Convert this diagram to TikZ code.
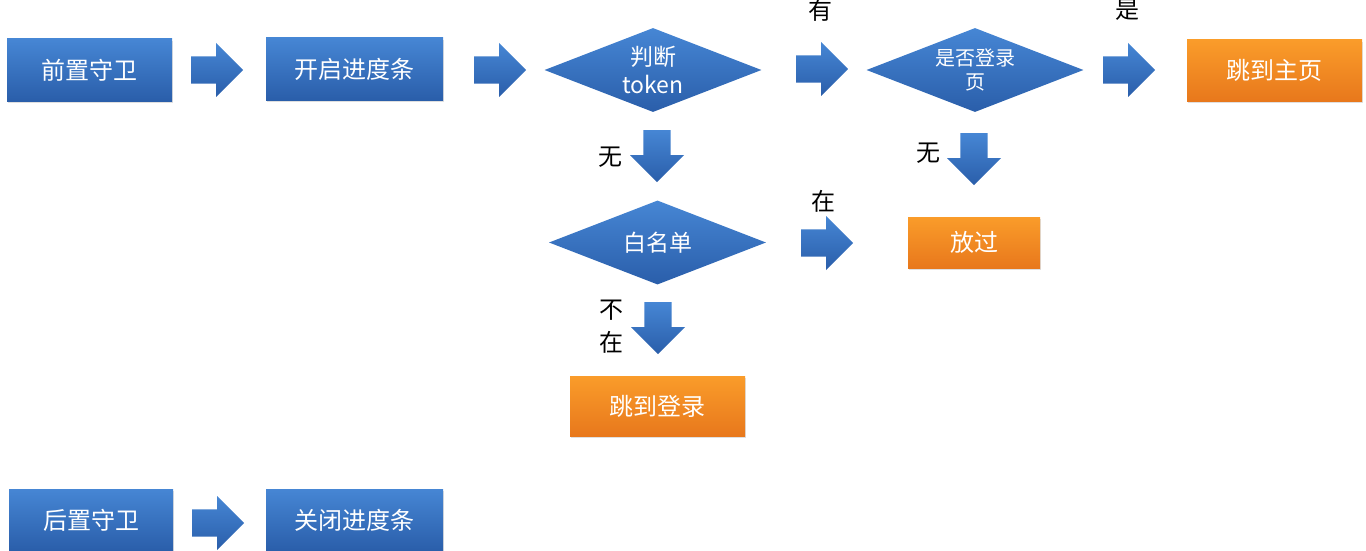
\documentclass[tikz,border=0pt]{standalone}
\usepackage{fontspec}
\setmainfont{Noto Sans CJK SC}
\usetikzlibrary{positioning,shapes,shadows}

\definecolor{blueTop}{RGB}{70,134,212}
\definecolor{blueBot}{RGB}{42,94,170}
\definecolor{orangeTop}{RGB}{250,156,42}
\definecolor{orangeBot}{RGB}{232,120,28}

\begin{document}
\begin{tikzpicture}[%
	x=1pt,y=-1pt,
	every text node part/.style={align=center},
	proc/.style={%
		rectangle,
		top color=blueTop,
		bottom color=blueBot,
		text=white,
		inner sep=0pt,
		font=\fontsize{24}{26}\selectfont,
		drop shadow={opacity=0.25,shadow xshift=1pt,shadow yshift=-2pt}
	},
	goal/.style={%
		rectangle,
		top color=orangeTop,
		bottom color=orangeBot,
		text=white,
		inner sep=0pt,
		font=\fontsize{24}{26}\selectfont,
		drop shadow={opacity=0.25,shadow xshift=1pt,shadow yshift=-2pt}
	},
	test/.style={%
		diamond,
		top color=blueTop,
		bottom color=blueBot,
		inner sep=0pt,
		minimum width=217pt,
		minimum height=84pt,
		label={[text=white,align=center,#1]center:\testtext}
	},
	fat/.style={%
		single arrow,
		anchor=tail,
		top color=blueTop,
		bottom color=blueBot,
		inner xsep=0pt,
		inner ysep=13pt,
		minimum width=54pt,
		minimum height=52pt,
		single arrow head extend=13pt,
		single arrow tip angle=90
	},
	down/.style={fat,rotate=-90},
	lbl/.style={%
		inner sep=0pt,
		font=\fontsize{24}{26}\selectfont
	}
	]
	\useasboundingbox (0,0) rectangle (1366,551);

	% top row
	\node[proc,minimum width=165pt,minimum height=62pt] (pre) at (89.5,70) {前置守卫};
	\node[proc,minimum width=177pt,minimum height=62pt] (start) at (354.5,69) {开启进度条};
	\def\testtext{判断\\token}
	\node[test={font=\fontsize{23}{28}\selectfont}] (token) at (653,70) {};
	\def\testtext{是否登录\\页}
	\node[test={font=\fontsize{20}{24}\selectfont}] (islogin) at (975,70) {};
	\node[goal,minimum width=175pt,minimum height=61pt] (home) at (1274.5,70.5) {跳到主页};

	% middle
	\def\testtext{白名单}
	\node[test={font=\fontsize{23}{26}\selectfont}] (white) at (657.5,242.5) {};
	\node[goal,minimum width=132pt,minimum height=51pt] (pass) at (974,242.5) {放过};
	\node[goal,minimum width=175pt,minimum height=60pt] (tologin) at (657.5,406) {跳到登录};

	% after guard
	\node[proc,minimum width=164pt,minimum height=62pt] (post) at (91,520) {后置守卫};
	\node[proc,minimum width=177pt,minimum height=62pt] (close) at (354.5,520) {关闭进度条};

	% block arrows (placed by their tails)
	\node[fat] (a1) at (191,70) {};
	\node[fat] (a2) at (474,70) {};
	\node[fat] (a3) at (796,69) {};
	\node[fat] (a4) at (1103,70) {};
	\node[down] (a5) at (657,130) {};
	\node[fat] (a6) at (801,243) {};
	\node[down] (a7) at (974,133) {};
	\node[down] (a8) at (658,302) {};
	\node[fat] (a9) at (192,523) {};

	% branch labels
	\node[lbl] (yes) at (820,10) {有};
	\node[lbl] (isyes) at (1127,10) {是};
	\node[lbl] (no) at (610,157) {无};
	\node[lbl] (inlist) at (823,201) {在};
	\node[lbl] (nopage) at (928,153) {无};
	\node[lbl] (notin) at (611,327) {不\\[7pt]在};
\end{tikzpicture}
\end{document}
